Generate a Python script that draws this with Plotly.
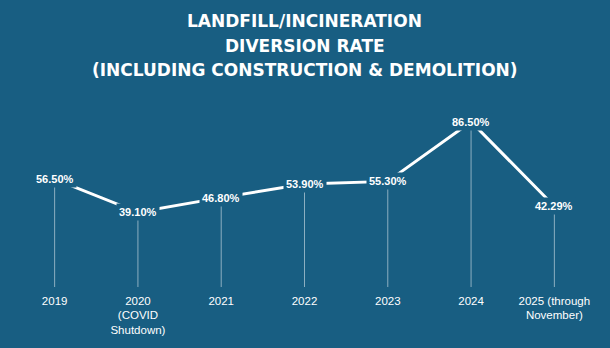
import plotly.graph_objects as go

years = ["2019", "2020<br>(COVID<br>Shutdown)", "2021", "2022", "2023", "2024", "2025 (through<br>November)"]
rates = [56.50, 39.10, 46.80, 53.90, 55.30, 86.50, 42.29]
title_lines = ["LANDFILL/INCINERATION", "DIVERSION RATE", "(INCLUDING CONSTRUCTION & DEMOLITION)"]

BG = "#185e82"
W, H = 610, 348
M_T, M_B = 96, 59
x_idx = list(range(len(years)))

fig = go.Figure()

# thin drop lines from each point to the baseline
fig.add_trace(go.Scatter(
    x=x_idx, y=rates, mode="markers",
    marker=dict(size=1, color="rgba(0,0,0,0)"),
    error_y=dict(type="data", symmetric=False, array=[0] * len(rates),
                 arrayminus=rates, width=0, thickness=1,
                 color="rgba(255,255,255,0.5)"),
    hoverinfo="skip", showlegend=False,
))

# main line
fig.add_trace(go.Scatter(
    x=x_idx, y=rates, mode="lines",
    line=dict(color="white", width=3),
    showlegend=False,
))

# value labels with background boxes that break the line
for i, v in enumerate(rates):
    fig.add_annotation(
        x=i, y=v, text=f"<b>{v:.2f}%</b>", showarrow=False,
        font=dict(family="Arial", size=11, color="white"),
        bgcolor=BG, borderpad=2,
    )

# three-line title, centred; vertical positions in pixels from the top
plot_h = H - M_T - M_B
for t, y_px in zip(title_lines, [20, 45, 70]):
    fig.add_annotation(
        x=0.5, xref="paper", y=(H - M_B - y_px) / plot_h, yref="paper",
        yanchor="middle", xanchor="center",
        text=f"<b>{t}</b>", showarrow=False,
        font=dict(family="DejaVu Sans", size=17, color="white"),
    )

fig.update_layout(
    width=W, height=H,
    paper_bgcolor=BG, plot_bgcolor=BG,
    margin=dict(l=13, r=14, t=M_T, b=M_B),
    xaxis=dict(range=[-0.5, 6.5], tickmode="array", tickvals=x_idx, ticktext=years,
               showgrid=False, zeroline=False, showline=False, ticks="",
               ticklabelstandoff=5,
               tickfont=dict(family="Arial", size=11.5, color="white")),
    yaxis=dict(range=[0, 100], visible=False, showgrid=False, zeroline=False),
)

fig.write_html("out.html")
